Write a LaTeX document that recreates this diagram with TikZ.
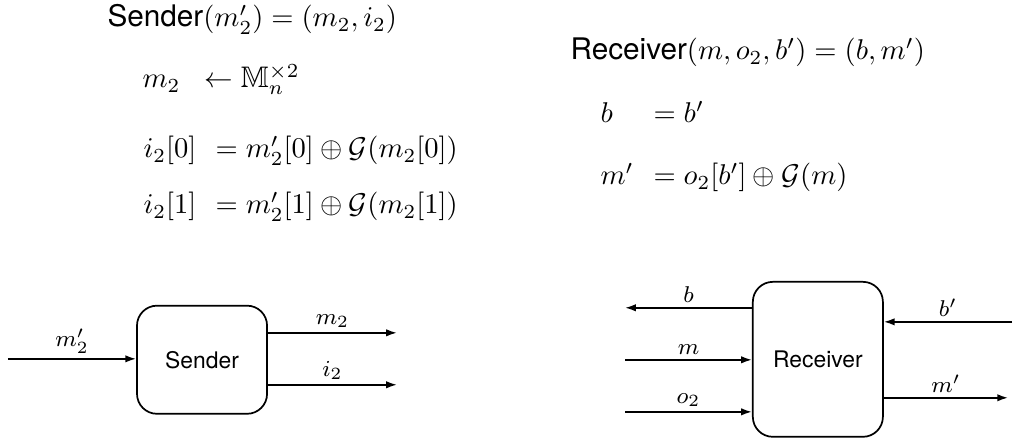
\documentclass[tikz,border=0pt]{standalone}
\usepackage{amsmath,amssymb}
\usepackage{fontspec}
\setsansfont{TeX Gyre Heros}
\usepackage{tikz}
\usetikzlibrary{arrows.meta,positioning}
\tikzset{
  blk/.style={draw,line width=0.6pt,rounded corners=7pt,minimum width=1.6cm,font=\fontsize{8}{9.6}\selectfont\sffamily},
  wire/.style={line width=0.6pt,-{Latex[length=3.8pt,width=2.6pt]}},
  lbl/.style={font=\fontsize{8.2}{9.8}\selectfont,above,inner sep=1.5pt},
  eqn/.style={anchor=base west,inner sep=0pt,font=\fontsize{10.4}{12.5}\selectfont}
}
\newcommand{\Gf}[1]{\mathcal{G}(#1)}
\begin{document}
\begin{tikzpicture}
\useasboundingbox (0,0) rectangle (12.46,5.41);
% sender equations
\node[eqn] (shead) at (1.316,5.080) {\textsf{Sender}$(m'_2) = (m_2, i_2)$};
\node[eqn] (ssamp) at (1.747,4.330) {$m_2\;\;\leftarrow \mathbb{M}_n^{\times 2}$};
\node[eqn] (si0l) at (1.759,3.469) {$i_2[0]$};
\node[eqn] (si0r) at (2.645,3.469) {$= m'_2[0] \oplus \Gf{m_2[0]}$};
\node[eqn] (si1l) at (1.759,2.780) {$i_2[1]$};
\node[eqn] (si1r) at (2.645,2.780) {$= m'_2[1] \oplus \Gf{m_2[1]}$};
% receiver equations
\node[eqn] (rhead) at (7.011,4.674) {\textsf{Receiver}$(m, o_2, b') = (b, m')$};
\node[eqn] (rbl) at (7.380,3.899) {$b$};
\node[eqn] (rbr) at (8.032,3.899) {$= b'$};
\node[eqn] (rml) at (7.380,3.137) {$m'$};
\node[eqn] (rmr) at (8.032,3.137) {$= o_2[b'] \oplus \Gf{m}$};
% sender block
\node[blk,minimum height=1.33cm] (snd) at (2.485,0.985) {Sender};
\coordinate (sin) at (0.098,0.996);
\coordinate (sm2) at (4.883,1.316);
\coordinate (si2) at (4.883,0.677);
\draw[wire] (sin) -- (snd.west |- sin) node[lbl,midway] {$m'_2$};
\draw[wire] (snd.east |- sm2) -- (sm2) node[lbl,midway] {$m_2$};
\draw[wire] (snd.east |- si2) -- (si2) node[lbl,midway] {$i_2$};
% receiver block
\node[blk,minimum height=1.906cm] (rcv) at (10.06,0.99) {Receiver};
\coordinate (rb) at (7.688,1.624);
\coordinate (rm) at (7.688,0.984);
\coordinate (ro) at (7.688,0.344);
\coordinate (rbp) at (12.448,1.451);
\coordinate (rmp) at (12.40,0.517);
\draw[wire] (rcv.west |- rb) -- (rb) node[lbl,midway] {$b$};
\draw[wire] (rm) -- (rcv.west |- rm) node[lbl,midway] {$m$};
\draw[wire] (ro) -- (rcv.west |- ro) node[lbl,midway] {$o_2$};
\draw[wire] (rbp) -- (rcv.east |- rbp) node[lbl,midway] {$b'$};
\draw[wire] (rcv.east |- rmp) -- (rmp) node[lbl,midway] {$m'$};
\end{tikzpicture}
\end{document}
